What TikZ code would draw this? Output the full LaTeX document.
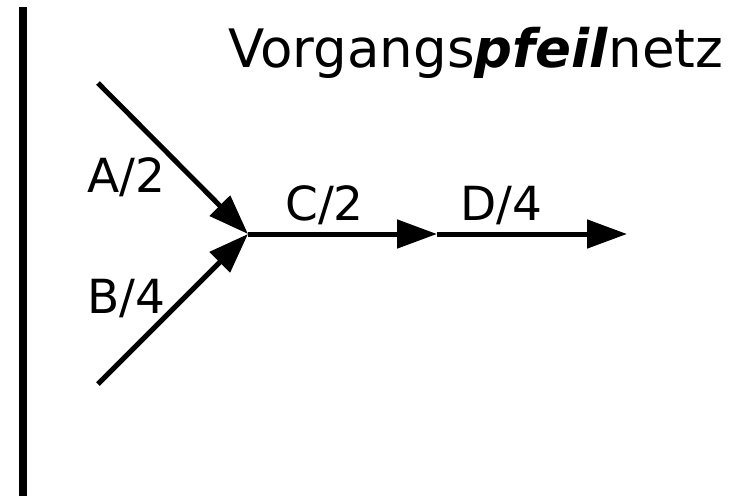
\documentclass[tikz,border=0pt]{standalone}
\usepackage{fontspec}
\setmainfont{DejaVu Sans}
\usetikzlibrary{arrows.meta}

\begin{document}
\begin{tikzpicture}[x=1pt, y=-1pt, act/.style = {line width=5pt, -{Triangle[length=40pt, width=28pt]}},
    lbl/.style = {anchor=base west, inner sep=0pt, font=\fontsize{47}{56}\selectfont}]
    \useasboundingbox (0,0) rectangle (731,496);
    \draw[line width=8pt] (23,7) -- (23,496);

    \node[lbl, font=\fontsize{53}{60}\selectfont] (T) at (228,67) {Vorgangs\textbf{\textit{pfeil}}netz};

    \coordinate (A) at (98,83);
    \coordinate (B) at (98,384);
    \coordinate (J) at (248,234);
    \coordinate (K) at (437,234);
    \coordinate (E) at (627,234);

    \path[act] (A) edge[] (J);
    \path[act] (B) edge[] (J);
    \path[act] (J) edge[] (K);
    \path[act] (K) edge[] (E);

    \node[lbl] (LA) at (87,192) {A/2};
    \node[lbl] (LB) at (87,313) {B/4};
    \node[lbl] (LC) at (285,220) {C/2};
    \node[lbl] (LD) at (460,220) {D/4};
  \end{tikzpicture}
\end{document}
